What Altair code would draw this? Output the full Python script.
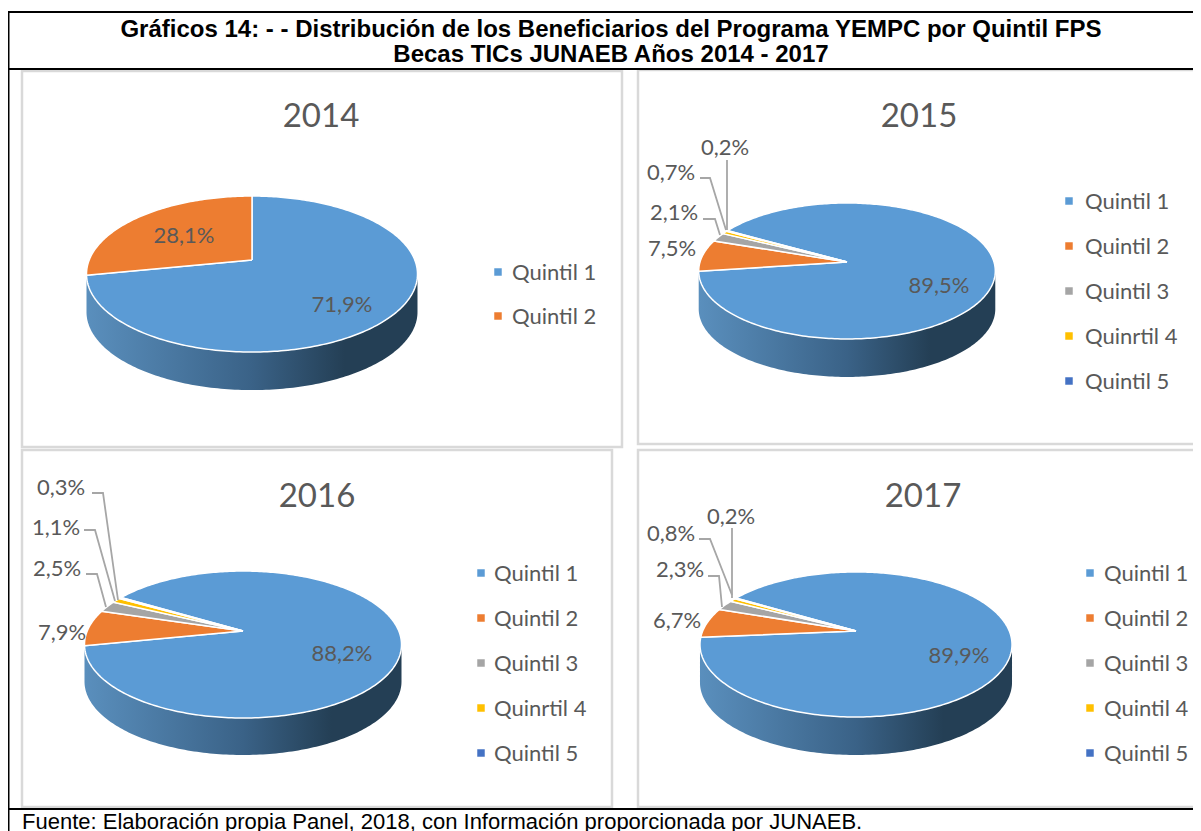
import math
import altair as alt
import pandas as pd

years = ["2014", "2015", "2016", "2017"]
quintiles = ["Quintil 1", "Quintil 2", "Quintil 3", "Quintil 4", "Quintil 5"]
colors = ["#5b9bd5", "#ed7d31", "#a5a5a5", "#ffc000", "#4472c4"]
values = {
    "2014": [71.9, 28.1],
    "2015": [89.5, 7.5, 2.1, 0.7, 0.2],
    "2016": [88.2, 7.9, 2.5, 1.1, 0.3],
    "2017": [89.9, 6.7, 2.3, 0.8, 0.2],
}
legend_names = {
    "2014": ["Quintil 1", "Quintil 2"],
    "2015": ["Quintil 1", "Quintil 2", "Quintil 3", "Quinrtil 4", "Quintil 5"],
    "2016": ["Quintil 1", "Quintil 2", "Quintil 3", "Quinrtil 4", "Quintil 5"],
    "2017": ["Quintil 1", "Quintil 2", "Quintil 3", "Quintil 4", "Quintil 5"],
}
# apex x, apex y, half width, scale y, perspective, depth, start angle
pies = {
    "2014": (252, 260, 162.8, 75.5, 0.18, 38, 0),
    "2015": (847, 262, 147.0, 66.8, 0.132, 38, -60),
    "2016": (243, 631, 155.8, 71.0, 0.184, 37, -59),
    "2017": (856, 631, 153.3, 70.0, 0.186, 38, -59),
}
titles = [("2014", 321, 117), ("2015", 919, 117), ("2016", 317, 497), ("2017", 923, 497)]
frames = [(22, 71, 622, 447), (638, 70, 1215, 444), (22, 450, 612, 807), (638, 450, 1215, 807)]
legend_pos = {
    "2014": (498, 512, [273, 317]),
    "2015": (1069, 1085, [202, 247, 292, 337, 382]),
    "2016": (481, 494, [574, 619, 664, 709, 754]),
    "2017": (1090, 1104, [574, 619, 664, 709, 754]),
}
pct_labels = [
    ("28,1%", 184, 236), ("71,9%", 342, 305),
    ("0,2%", 725, 148), ("0,7%", 671, 173), ("2,1%", 674, 213), ("7,5%", 672, 249), ("89,5%", 939, 286),
    ("0,3%", 61, 488), ("1,1%", 56, 528), ("2,5%", 57, 569), ("7,9%", 62, 633), ("88,2%", 342, 654),
    ("0,2%", 731, 517), ("0,8%", 671, 534), ("2,3%", 680, 570), ("6,7%", 677, 621), ("89,9%", 959, 656),
]
leaders = [
    [(727, 160), (727, 230)],
    [(700, 178), (710, 178), (726, 230)],
    [(703, 219), (715, 219), (720, 235)],
    [(92, 493), (103, 493), (118, 600)],
    [(84, 530), (95, 530), (115, 601)],
    [(86, 574), (97, 574), (106, 607)],
    [(732, 528), (732, 598)],
    [(699, 539), (710, 539), (732, 595)],
    [(708, 576), (719, 576), (722, 607)],
]
header_lines = [
    ("Gráficos 14: - - Distribución de los Beneficiarios del Programa YEMPC por Quintil FPS", 611, 30),
    ("Becas TICs JUNAEB Años 2014 - 2017", 611, 55),
]
footer = "Fuente: Elaboración propia Panel, 2018, con Información proporcionada por JUNAEB."
rules_h = [(8, 1215, 12), (8, 1215, 69), (8, 1215, 809)]

FONT = "Lato"
GREY = "#595959"


def project(p, angle):
    ax, ay, sx, sy, k, _, _ = p
    a = math.radians(angle)
    X, Y = math.sin(a), -math.cos(a)
    d = 1 - k * Y
    return ax + sx * X / d, ay + sy * Y / d


wedge_rows, band_rows = [], []
for year in years:
    p = pies[year]
    vals = values[year]
    total = sum(vals)
    start = p[6]
    for i, v in enumerate(vals):
        span = v / total * 360
        n = max(2, int(span))
        pts = [(p[0], p[1])] + [project(p, start + span * j / n) for j in range(n + 1)] + [(p[0], p[1])]
        for o, (x, y) in enumerate(pts):
            wedge_rows.append(dict(id=f"{year}-{i}", q=quintiles[i], x=x, y=y, o=o))
        start += span
    ring = [project(p, a) for a in range(0, 360)]
    left = min(range(360), key=lambda j: ring[j][0])
    right = max(range(360), key=lambda j: ring[j][0])
    arc = [ring[j] for j in range(right, left + 1)]
    outline = arc + [(x, y + p[5]) for x, y in reversed(arc)] + [arc[0]]
    for o, (x, y) in enumerate(outline):
        band_rows.append(dict(id=year, x=x, y=y, o=o))

leg_rows = []
for year in years:
    sq, tx, ys = legend_pos[year]
    for i, name in enumerate(legend_names[year]):
        leg_rows.append(dict(q=quintiles[i], name=name, sx=sq, tx=tx, y=ys[i]))

lead_rows = [dict(id=i, x=x, y=y, o=o) for i, pts in enumerate(leaders) for o, (x, y) in enumerate(pts)]

XS = alt.Scale(domain=[8, 1193], nice=False, zero=False)
X = alt.X("x:Q", axis=None, scale=XS)
Y = alt.Y("y:Q", axis=None, scale=alt.Scale(domain=[831, 8], nice=False, zero=False))
color_scale = alt.Scale(domain=quintiles, range=colors)

frame_df = pd.DataFrame(frames, columns=["x", "y", "x2", "y2"])
frame_layer = alt.Chart(frame_df).mark_rect(fill="white", stroke="#d9d9d9", strokeWidth=2.5).encode(
    x=X, y=Y, x2="x2:Q", y2="y2:Q")

rule_df = pd.DataFrame(rules_h, columns=["x", "x2", "y"])
rule_layer = alt.Chart(rule_df).mark_rule(color="black", strokeWidth=2).encode(x=X, x2="x2:Q", y=Y)
left_df = pd.DataFrame({"x": [8.5], "y": [12], "y2": [831]})
left_layer = alt.Chart(left_df).mark_rule(color="black", strokeWidth=2).encode(x=X, y=Y, y2="y2:Q")

gradient = alt.LinearGradient(
    gradient="linear", x1=0, y1=0, x2=1, y2=0,
    stops=[alt.GradientStop(color="#5a8fbd", offset=0),
           alt.GradientStop(color="#3a6287", offset=0.5),
           alt.GradientStop(color="#243f55", offset=0.78),
           alt.GradientStop(color="#243f55", offset=1)])
band_layer = alt.Chart(pd.DataFrame(band_rows)).mark_line(filled=True, fill=gradient, strokeWidth=0).encode(
    x=X, y=Y, detail="id:N", order="o:Q")
wedge_layer = alt.Chart(pd.DataFrame(wedge_rows)).mark_line(filled=True, stroke="white", strokeWidth=1.5).encode(
    x=X, y=Y, detail="id:N", order="o:Q",
    color=alt.Color("q:N", scale=color_scale, legend=None))
lead_layer = alt.Chart(pd.DataFrame(lead_rows)).mark_line(color="#a6a6a6", strokeWidth=1.8).encode(
    x=X, y=Y, detail="id:N", order="o:Q")

leg_df = pd.DataFrame(leg_rows)
square_layer = alt.Chart(leg_df).mark_square(size=56, opacity=1, yOffset=-1).encode(
    x=alt.X("sx:Q", axis=None, scale=XS), y=Y,
    color=alt.Color("q:N", scale=color_scale, legend=None))
legend_text = alt.Chart(leg_df).mark_text(align="left", baseline="middle", font=FONT, fontSize=22, color=GREY).encode(
    x=alt.X("tx:Q", axis=None, scale=XS), y=Y, text="name:N")

pct_layer = alt.Chart(pd.DataFrame(pct_labels, columns=["t", "x", "y"])).mark_text(
    align="center", baseline="middle", font=FONT, fontSize=22, color=GREY).encode(x=X, y=Y, text="t:N")
title_layer = alt.Chart(pd.DataFrame(titles, columns=["t", "x", "y"])).mark_text(
    align="center", baseline="middle", font=FONT, fontSize=33, color=GREY).encode(x=X, y=Y, text="t:N")
head_layer = alt.Chart(pd.DataFrame(header_lines, columns=["t", "x", "y"])).mark_text(
    align="center", baseline="middle", font="Liberation Sans", fontSize=24, fontWeight="bold", color="black"
).encode(x=X, y=Y, text="t:N")
foot_layer = alt.Chart(pd.DataFrame({"t": [footer], "x": [22], "y": [829]})).mark_text(
    align="left", baseline="alphabetic", font="Liberation Sans", fontSize=22, color="black"
).encode(x=X, y=Y, text="t:N")

chart = alt.layer(
    frame_layer, rule_layer, left_layer, band_layer, wedge_layer, lead_layer,
    square_layer, legend_text, pct_layer, title_layer, head_layer, foot_layer,
).properties(
    width=1185, height=823, padding=0, autosize=alt.AutoSizeParams(type="none"), background="white"
).configure_view(stroke=None)

chart.save("out.html", embed_options={"renderer": "svg", "actions": False})
